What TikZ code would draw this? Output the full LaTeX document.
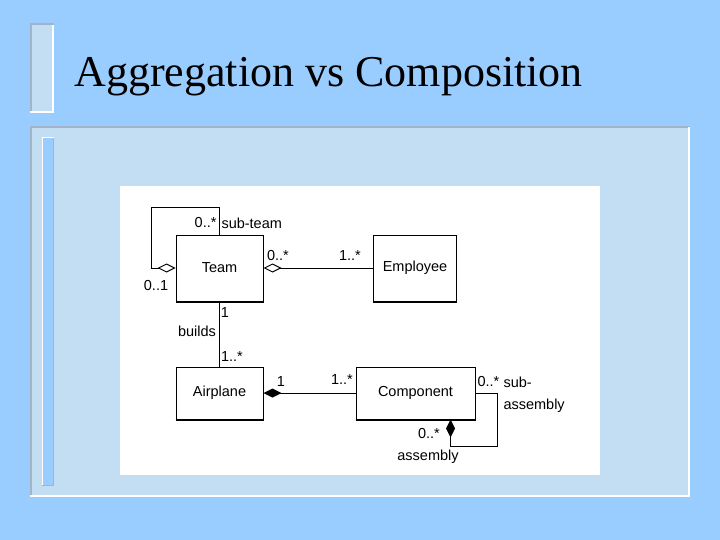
\documentclass[tikz,border=0pt]{standalone}
\usepackage{fontspec}
\setmainfont{Liberation Serif}
\setsansfont{Liberation Sans}
\usetikzlibrary{arrows.meta}

\definecolor{slidebg}{HTML}{99CCFF}
\definecolor{panelfill}{HTML}{C3DDF3}
\definecolor{edgegrey}{HTML}{A3B3C8}
\newcommand\umlfont{\sffamily\fontsize{14.5}{16}\selectfont}

\begin{document}
\begin{tikzpicture}[x=1pt, y=-1pt, line width=1pt,
  classbox/.style={draw, fill=white, inner sep=0pt, font=\umlfont},
  mult/.style={inner sep=0pt, font=\umlfont},
  agg/.style={-{Diamond[open, length=18pt, width=9pt]}},
  comp/.style={-{Diamond[length=18pt, width=9pt]}}]

\useasboundingbox (0,0) rectangle (720,540);

% Slide background
\fill[slidebg] (0,0) rectangle (720,540);
\fill[panelfill] (30,23) rectangle (54,113);
\draw[edgegrey, line width=2pt] (31,113) -- (31,24) -- (54,24);
\draw[white, line width=2pt] (53,25) -- (53,112) -- (30,112);
\fill[panelfill] (30,126) rectangle (690,497);
\draw[edgegrey, line width=2pt] (31,497) -- (31,127) -- (690,127);
\draw[white, line width=2pt] (689,127) -- (689,496) -- (30,496);
\fill[slidebg] (42,137) rectangle (54,486);
\draw[white, line width=1.5pt] (42.5,486) -- (42.5,137.5) -- (54,137.5);
\draw[edgegrey, line width=1.5pt] (53.5,138) -- (53.5,485.5) -- (42,485.5);
\fill[white] (120,186) rectangle (600,475);

% Title
\node[anchor=base west, inner sep=0pt, font=\fontsize{44}{48}\selectfont] (title) at (74,87) {Aggregation vs Composition};

% Classes
\node[classbox, minimum width=87pt, minimum height=66pt] (team) at (219.5,268) {Team};
\node[classbox, minimum width=83pt, minimum height=66pt] (employee) at (415,268) {Employee};
\node[classbox, minimum width=87pt, minimum height=52pt] (airplane) at (219.5,393) {Airplane};
\node[classbox, minimum width=119pt, minimum height=52pt] (component) at (415.5,393) {Component};
\foreach \c in {team,employee,airplane,component}
  \draw[line width=2pt] (\c.south west) -- (\c.south east);

% Associations
\draw[agg] (team.north) -- ++(0,-27) -| ([xshift=-24pt]team.west) -- (team.west);
\draw[agg] (employee.west) -- (team.east);
\draw (team.south) -- (airplane.north);
\draw[comp] (component.west) -- (airplane.east);
\draw[comp] (component.east) -- ++(22,0) |- ([xshift=-25pt, yshift=-27pt]component.south east)
  -- ([xshift=-25pt]component.south east);

% Multiplicities and roles
\node[mult, anchor=east] (m1) at (217,223) {0..*};
\node[mult, anchor=west] (r1) at (221,223) {sub-team};
\node[mult] (m2) at (156,286) {0..1};
\node[mult] (m3) at (278,256) {0..*};
\node[mult] (m4) at (350,256) {1..*};
\node[mult] (m5) at (225,313) {1};
\node[mult] (r2) at (197,331) {builds};
\node[mult] (m6) at (232,357) {1..*};
\node[mult] (m7) at (281,382) {1};
\node[mult] (m8) at (342,380) {1..*};
\node[mult, anchor=west] (m9) at (477,382) {0..*};
\node[mult, anchor=west] (r3) at (503,382) {sub-};
\node[mult, anchor=west] (r4) at (503,406) {assembly};
\node[mult] (m10) at (429,434) {0..*};
\node[mult] (r5) at (428,457) {assembly};

\end{tikzpicture}
\end{document}
